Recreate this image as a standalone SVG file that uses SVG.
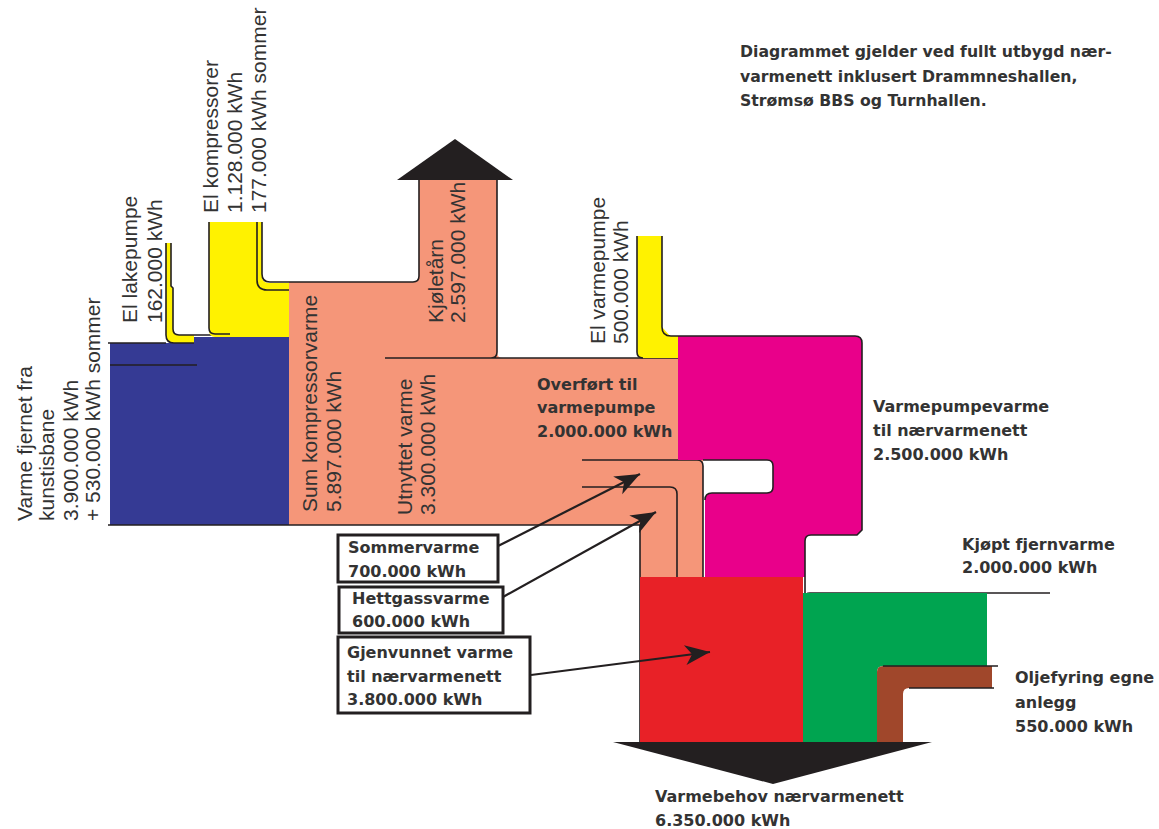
<svg xmlns="http://www.w3.org/2000/svg" width="1159" height="829" viewBox="0 0 1159 829">
<style>
.ln{fill:none;stroke:#231f20;stroke-width:1.6}
.h{font-family:"DejaVu Sans",sans-serif;font-weight:bold;font-size:16px;fill:#333}
.v{font-family:"Liberation Sans",Arial,sans-serif;font-size:21px;fill:#333}
.box{fill:#fff;stroke:#231f20;stroke-width:3}
.arr{fill:none;stroke:#231f20;stroke-width:2.2}
</style>
<defs>
<marker id="ah" markerUnits="userSpaceOnUse" markerWidth="30" markerHeight="24" viewBox="-26 -12 28 24" refX="0" refY="0" orient="auto">
<path d="M0,0 L-25,-10 L-18,0 L-25,10 Z" fill="#231f20"/>
</marker>
</defs>
<rect width="1159" height="829" fill="#fff"/>

<g id="note">
<text class="h" x="740" y="57" style="font-size:15.7px">Diagrammet gjelder ved fullt utbygd nær-</text>
<text class="h" x="740" y="82" style="font-size:15.7px">varmenett inklusert Drammneshallen,</text>
<text class="h" x="740" y="106" style="font-size:15.7px">Strømsø BBS og Turnhallen.</text>
</g>

<g id="kunstisbane">
<path d="M110,343 L194,343 L194,337 L289,337 L289,525 L110,525 Z" fill="#353a94"/>
<path class="ln" d="M108,343 L166,343 M110,365 L197,365"/>
<text class="v" transform="translate(32,521) rotate(-90)">Varme fjernet fra</text>
<text class="v" transform="translate(54,521) rotate(-90)">kunstisbane</text>
<text class="v" transform="translate(78,521) rotate(-90)">3.900.000 kWh</text>
<text class="v" transform="translate(100,521) rotate(-90)">+ 530.000 kWh sommer</text>
</g>

<g id="lakepumpe">
<path d="M166,243 L171,243 L171,286 L173,288 L173,329 Q173,335 179,335 L194,335 L194,343 L174,343 Q166,343 166,335 Z" fill="#fff200"/>
<path class="ln" d="M166,243 L166,335 Q166,343 174,343 L194,343 M171,243 L171,286 L173,288 L173,329 Q173,335 179,335 L230,335"/>
<text class="v" transform="translate(137,323) rotate(-90)">El lakepumpe</text>
<text class="v" transform="translate(162,323) rotate(-90)">162.000 kWh</text>
</g>

<g id="kompressorer">
<path d="M209,222 L262,222 L262,276 Q262,283 269,283 L289,283 L289,337 L215,337 Q209,337 209,330 Z" fill="#fff200"/>
<path class="ln" d="M209,222 L209,328 Q209,334 215,334 L230,334 M257,222 L257,280 Q257,290 267,290 L289,290 M262,222 L262,274 Q262,282 270,282 L289,282"/>
<text class="v" transform="translate(218,213) rotate(-90)">El kompressorer</text>
<text class="v" transform="translate(242,213) rotate(-90)">1.128.000 kWh</text>
<text class="v" transform="translate(266,213) rotate(-90)">177.000 kWh sommer</text>
</g>

<g id="kompressorvarme">
<path d="M289,282 L413,282 Q419,282 419,276 L419,180 L497,180 L497,352 Q497,358 503,358 L678,358 L678,460 L703,460 L703,577 L640,577 L640,525 L289,525 Z" fill="#f59679"/>
<path class="ln" d="M289,282 L413,282 Q419,282 419,276 L419,180 M497,180 L497,352 Q497,358 491,358 M385,358 L678,358 M108,525 L640,525 L640,742 M582,460 L697,460 Q703,460 703,466 L703,577 M582,487 L670,487 Q677,487 677,494 L677,577"/>
<text class="v" transform="translate(317,512) rotate(-90)">Sum kompressorvarme</text>
<text class="v" transform="translate(341,512) rotate(-90)">5.897.000 kWh</text>
<text class="v" transform="translate(412,515) rotate(-90)">Utnyttet varme</text>
<text class="v" transform="translate(435,515) rotate(-90)">3.300.000 kWh</text>
<text class="h" x="537" y="390">Overført til</text>
<text class="h" x="537" y="413">varmepumpe</text>
<text class="h" x="537" y="437">2.000.000 kWh</text>
</g>

<g id="kjoletarn">
<polygon points="397,180 513,180 455,139" fill="#231f20"/>
<text class="v" transform="translate(443,323) rotate(-90)">Kjøletårn</text>
<text class="v" transform="translate(465,323) rotate(-90)">2.597.000 kWh</text>
</g>

<g id="elvarmepumpe">
<path d="M637,236 L662,236 L662,327 L670,336 L678,336 L678,358 L643,358 Q637,358 637,352 Z" fill="#fff200"/>
<path class="ln" d="M637,236 L637,352 Q637,358 643,358 M662,236 L662,327 Q662,336 671,336 L678,336"/>
<text class="v" transform="translate(605,344) rotate(-90)">El varmepumpe</text>
<text class="v" transform="translate(628,344) rotate(-90)">500.000 kWh</text>
</g>

<g id="varmepumpevarme">
<path d="M678,336 L855,336 Q862,336 862,343 L862,530 L857,535 L811,535 Q805,535 805,541 L805,577 L705,577 L705,500 Q705,493 712,493 L767,493 Q773,493 773,487 L773,466 Q773,460 767,460 L678,460 Z" fill="#e9008a"/>
<path class="ln" d="M678,336 L855,336 Q862,336 862,343 L862,530 L857,535 L811,535 Q805,535 805,541 L805,598 Q805,593 810,593 L1050,593 M703,460 L767,460 Q773,460 773,466 L773,487 Q773,493 767,493 L712,493 Q705,493 705,500"/>
<text class="h" x="873" y="412">Varmepumpevarme</text>
<text class="h" x="873" y="436">til nærvarmenett</text>
<text class="h" x="873" y="460">2.500.000 kWh</text>
</g>

<g id="fjernvarme">
<path d="M803,593 L987,593 L987,666 L883,666 Q877,666 877,672 L877,742 L803,742 Z" fill="#00a450"/>
<text class="h" x="962" y="550">Kjøpt fjernvarme</text>
<text class="h" x="962" y="573">2.000.000 kWh</text>
</g>

<g id="oljefyring">
<path d="M877,742 L877,672 Q877,666 883,666 L992,666 L992,688 L909,688 Q903,688 903,694 L903,742 Z" fill="#a0472b"/>
<path class="ln" d="M883,666 L998,666 M909,688 L994,688"/>
<text class="h" x="1015" y="683">Oljefyring egne</text>
<text class="h" x="1015" y="708">anlegg</text>
<text class="h" x="1015" y="732">550.000 kWh</text>
</g>

<g id="varmebehov">
<rect x="640" y="577" width="163" height="165" fill="#e82127"/>
<polygon points="613,742 932,742 773,784" fill="#231f20"/>
<text class="h" x="655" y="802">Varmebehov nærvarmenett</text>
<text class="h" x="655" y="826">6.350.000 kWh</text>
</g>

<g id="sommervarme">
<rect class="box" x="338" y="535" width="160" height="47"/>
<text class="h" x="348" y="553">Sommervarme</text>
<text class="h" x="348" y="577">700.000 kWh</text>
</g>

<g id="hettgassvarme">
<rect class="box" x="339" y="587" width="164" height="46"/>
<text class="h" x="352" y="604">Hettgassvarme</text>
<text class="h" x="352" y="627">600.000 kWh</text>
</g>

<g id="gjenvunnet">
<rect class="box" x="338" y="637" width="192" height="76"/>
<text class="h" x="347" y="658">Gjenvunnet varme</text>
<text class="h" x="347" y="682">til nærvarmenett</text>
<text class="h" x="347" y="705">3.800.000 kWh</text>
</g>

<g id="connectors">
<line class="arr" x1="498" y1="546" x2="640" y2="474" marker-end="url(#ah)"/>
<line class="arr" x1="503" y1="597" x2="656" y2="512" marker-end="url(#ah)"/>
<line class="arr" x1="531" y1="675" x2="710" y2="652" marker-end="url(#ah)"/>
</g>
</svg>
